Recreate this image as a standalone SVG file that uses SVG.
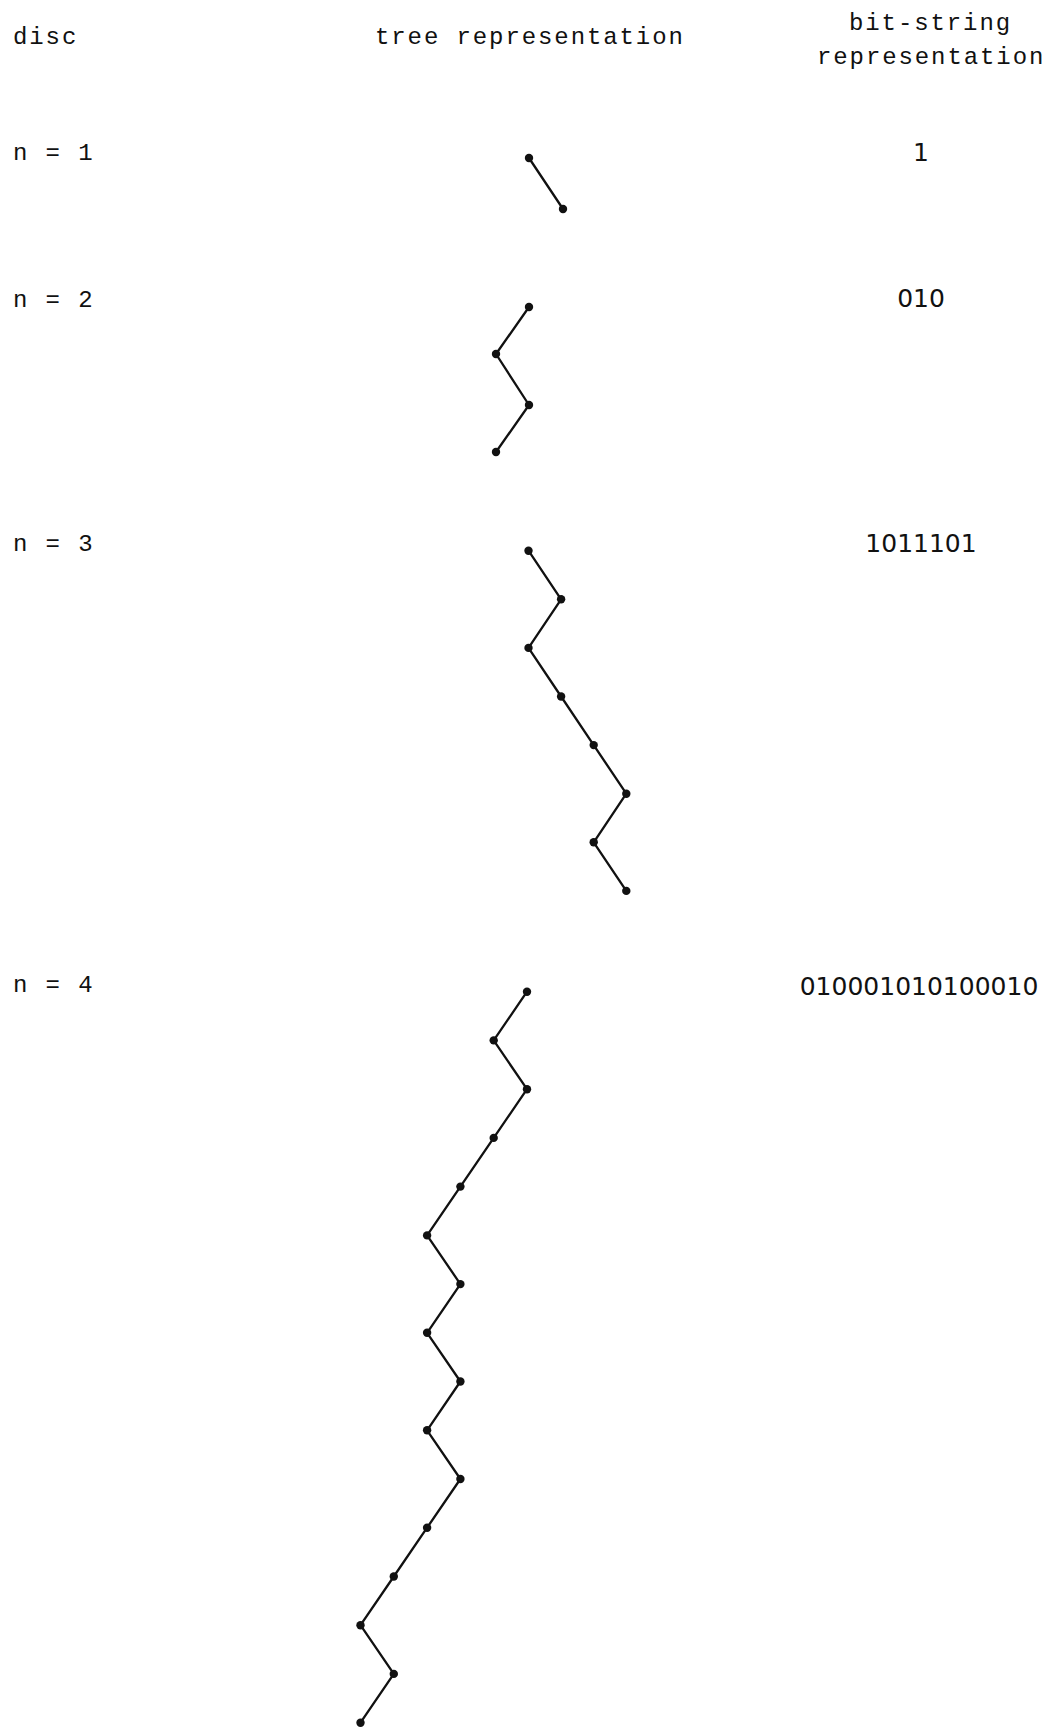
<svg xmlns="http://www.w3.org/2000/svg" width="1054" height="1728" viewBox="0 0 1054 1728">
<style>
.t{font-family:"Liberation Mono","DejaVu Sans Mono",monospace;font-size:24px;letter-spacing:1.9px;fill:#111}
.b{font-family:"DejaVu Sans","Liberation Sans",sans-serif;font-size:25px;fill:#111;text-anchor:middle}
.e{fill:none;stroke:#111;stroke-width:2.3;stroke-linejoin:round;stroke-linecap:round}
.v{fill:#111}
</style>
<rect width="1054" height="1728" fill="#fff"/>
<g id="headers">
<text class="t" x="13" y="44">disc</text>
<text class="t" x="375" y="44">tree representation</text>
<text class="t" x="849" y="30">bit-string</text>
<text class="t" x="817" y="64">representation</text>
</g>
<g id="labels">
<text class="t" x="13" y="160">n = 1</text>
<text class="t" x="13" y="307">n = 2</text>
<text class="t" x="13" y="551">n = 3</text>
<text class="t" x="13" y="992">n = 4</text>
<text class="b" x="921" y="161">1</text>
<text class="b" x="921" y="307">010</text>
<text class="b" x="921" y="552">1011101</text>
<text class="b" x="919" y="995">010001010100010</text>
</g>
<g id="connectors">
<polyline class="e" points="529,158 563,209"/>
<polyline class="e" points="529,307 496,354 529,405 496,452"/>
<polyline class="e" points="528.5,550.7 561.1,599.3 528.5,647.9 561.1,696.5 593.7,745.1 626.3,793.7 593.7,842.3 626.3,890.9"/>
<polyline class="e" points="527,991.7 493.7,1040.4 527,1089.2 493.7,1137.9 460.4,1186.6 427.1,1235.4 460.4,1284.1 427.1,1332.8 460.4,1381.5 427.1,1430.3 460.4,1479 427.1,1527.7 393.8,1576.5 360.5,1625.2 393.8,1673.9 360.5,1722.7"/>
</g>
<g id="tree1">
<g id="t1n0"><circle class="v" cx="529" cy="158" r="4.2"/></g>
<g id="t1n1"><circle class="v" cx="563" cy="209" r="4.2"/></g>
</g>
<g id="tree2">
<g id="t2n0"><circle class="v" cx="529" cy="307" r="4.2"/></g>
<g id="t2n1"><circle class="v" cx="496" cy="354" r="4.2"/></g>
<g id="t2n2"><circle class="v" cx="529" cy="405" r="4.2"/></g>
<g id="t2n3"><circle class="v" cx="496" cy="452" r="4.2"/></g>
</g>
<g id="tree3">
<g id="t3n0"><circle class="v" cx="528.5" cy="550.7" r="4.2"/></g>
<g id="t3n1"><circle class="v" cx="561.1" cy="599.3" r="4.2"/></g>
<g id="t3n2"><circle class="v" cx="528.5" cy="647.9" r="4.2"/></g>
<g id="t3n3"><circle class="v" cx="561.1" cy="696.5" r="4.2"/></g>
<g id="t3n4"><circle class="v" cx="593.7" cy="745.1" r="4.2"/></g>
<g id="t3n5"><circle class="v" cx="626.3" cy="793.7" r="4.2"/></g>
<g id="t3n6"><circle class="v" cx="593.7" cy="842.3" r="4.2"/></g>
<g id="t3n7"><circle class="v" cx="626.3" cy="890.9" r="4.2"/></g>
</g>
<g id="tree4">
<g id="t4n0"><circle class="v" cx="527" cy="991.7" r="4.2"/></g>
<g id="t4n1"><circle class="v" cx="493.7" cy="1040.4" r="4.2"/></g>
<g id="t4n2"><circle class="v" cx="527" cy="1089.2" r="4.2"/></g>
<g id="t4n3"><circle class="v" cx="493.7" cy="1137.9" r="4.2"/></g>
<g id="t4n4"><circle class="v" cx="460.4" cy="1186.6" r="4.2"/></g>
<g id="t4n5"><circle class="v" cx="427.1" cy="1235.4" r="4.2"/></g>
<g id="t4n6"><circle class="v" cx="460.4" cy="1284.1" r="4.2"/></g>
<g id="t4n7"><circle class="v" cx="427.1" cy="1332.8" r="4.2"/></g>
<g id="t4n8"><circle class="v" cx="460.4" cy="1381.5" r="4.2"/></g>
<g id="t4n9"><circle class="v" cx="427.1" cy="1430.3" r="4.2"/></g>
<g id="t4n10"><circle class="v" cx="460.4" cy="1479" r="4.2"/></g>
<g id="t4n11"><circle class="v" cx="427.1" cy="1527.7" r="4.2"/></g>
<g id="t4n12"><circle class="v" cx="393.8" cy="1576.5" r="4.2"/></g>
<g id="t4n13"><circle class="v" cx="360.5" cy="1625.2" r="4.2"/></g>
<g id="t4n14"><circle class="v" cx="393.8" cy="1673.9" r="4.2"/></g>
<g id="t4n15"><circle class="v" cx="360.5" cy="1722.7" r="4.2"/></g>
</g>
</svg>
